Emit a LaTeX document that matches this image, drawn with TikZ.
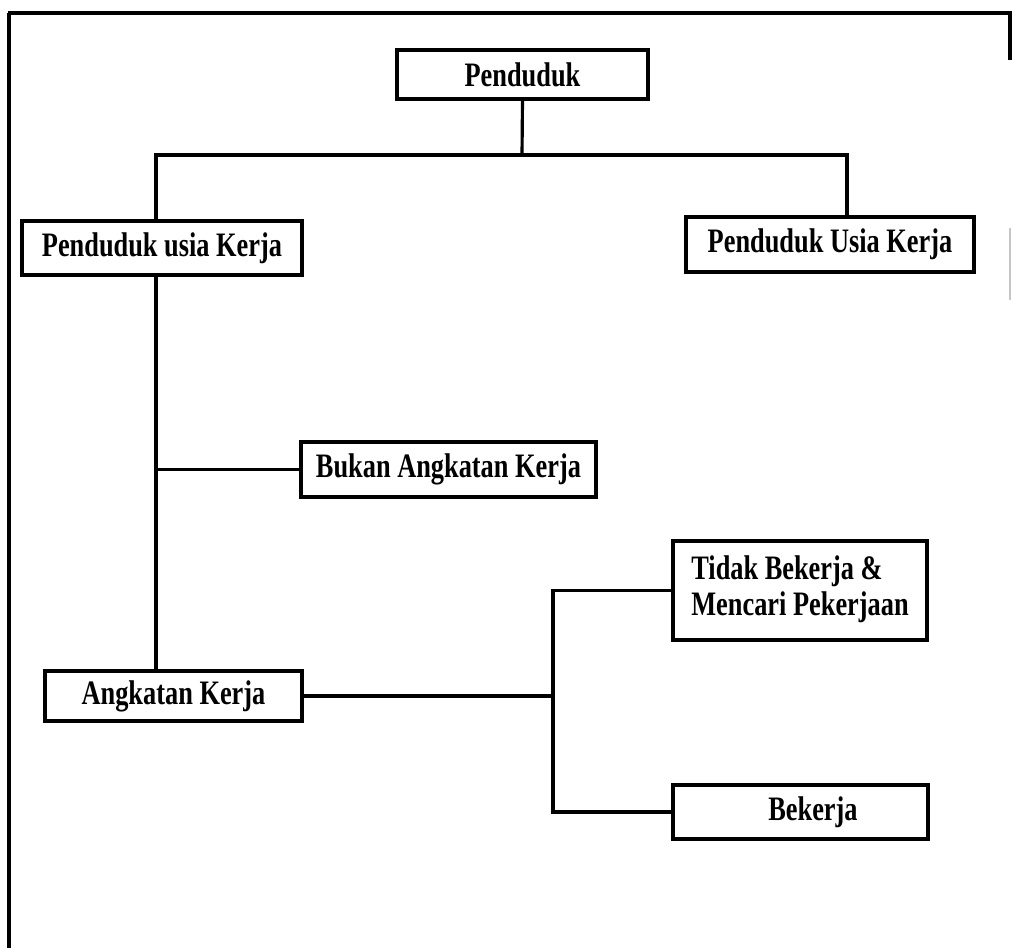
\documentclass[tikz,border=0pt]{standalone}
\usepackage{fontspec}
\setmainfont{Liberation Serif}
\usepackage{graphicx}
\usepackage{tikz}
\newcommand{\tinggi}[1]{\scalebox{1}[1.3]{#1}}

\begin{document}
\begin{tikzpicture}[x=0.02cm, y=-0.02cm,
        kotak/.style={draw, line width=2pt, inner sep=0pt,
            font=\bfseries\fontsize{15}{15.5}\selectfont},
        garis/.style={line width=1.8pt}]
        \useasboundingbox (0,0) rectangle (1012,948);
        % bingkai
        \draw [line width=1.8pt] (9,948) -- (9,13);
        \draw [line width=2.4pt] (8,13) -- (1012,13);
        \draw [line width=1.8pt] (1010,13) -- (1010,60);
        \draw [gray!45, line width=0.6pt] (1010,228) -- (1010,300);
        % kotak
        \node [kotak, minimum width=5.02cm, minimum height=0.98cm] (penduduk) at (522.5, 74.5) {\tinggi{Penduduk}};
        \node [kotak, minimum width=5.6cm, minimum height=1.08cm] (usiakerja) at (162, 248) {\tinggi{Penduduk usia Kerja}};
        \node [kotak, minimum width=5.76cm, minimum height=1.1cm] (usiakerjakanan) at (830, 244.5) {\tinggi{Penduduk Usia Kerja}};
        \node [kotak, minimum width=5.9cm, minimum height=1.1cm] (bukan) at (448.5, 469.5) {\tinggi{Bukan Angkatan Kerja}};
        \node [kotak, minimum width=5.14cm, minimum height=1.0cm] (angkatan) at (173.5, 696) {\tinggi{Angkatan Kerja}};
        \node [kotak, minimum width=5.08cm, minimum height=1.98cm] (tidak) at (800, 590.5)
            {\tinggi{\begin{tabular}{@{}l@{}}Tidak Bekerja \&\\Mencari Pekerjaan\end{tabular}}};
        \node [kotak, minimum width=5.1cm, minimum height=1.08cm] (bekerja) at (800.5, 812) {\tinggi{\hspace{0.5cm}Bekerja}};
        % garis penghubung
        \coordinate (atas) at (522, 155);
        \coordinate (kiri) at (156, 155);
        \coordinate (kanan) at (847, 155);
        \coordinate (simpul) at (553, 696);
        \draw [garis] (penduduk.south) -- (atas);
        \draw [garis] (kiri |- usiakerja.north) -- (kiri) -- (kanan) -- (kanan |- usiakerjakanan.north);
        \draw [garis] (kiri |- usiakerja.south) -- (kiri |- angkatan.north);
        \draw [garis] (kiri |- bukan.west) -- (bukan.west);
        \draw [garis] (angkatan.east) -- (simpul);
        \draw [garis] (tidak.west) -| (simpul |- bekerja.west) -- (bekerja.west);
    \end{tikzpicture}
\end{document}
